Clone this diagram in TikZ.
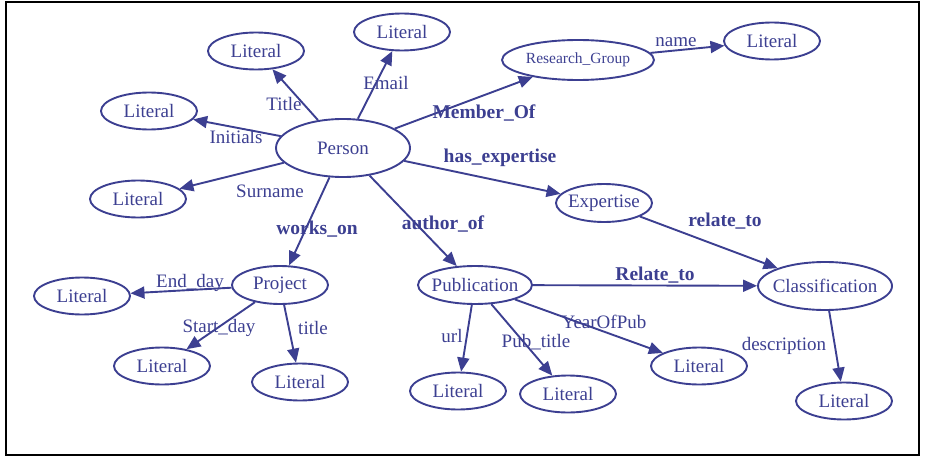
\documentclass[tikz,border=0pt]{standalone}
\usepackage{fontspec}
\setmainfont{Liberation Serif}
\usetikzlibrary{shapes.geometric,arrows.meta}
\definecolor{navy}{RGB}{60,63,145}
\newcommand{\zw}[1]{\makebox[0pt]{#1}}
\begin{document}
\begin{tikzpicture}[x=1pt,y=-1pt,
  ent/.style={ellipse,draw=navy,line width=1.9pt,text=navy,inner sep=0pt,
    font=\fontsize{19}{21}\selectfont},
  lit/.style={ent,minimum width=96pt,minimum height=37pt},
  lbl/.style={text=navy,inner sep=0pt,font=\fontsize{19}{21}\selectfont},
  blbl/.style={lbl,font=\fontsize{19.5}{21}\selectfont\bfseries},
  edge/.style={draw=navy,line width=1.9pt,-{Triangle[length=14pt,width=12pt]}}]
\useasboundingbox (0,0) rectangle (925,457);
\draw[line width=2pt] (6,2) rectangle (919,455);
% nodes
\node[ent,minimum width=134pt,minimum height=58pt] (person) at (343,148) {\zw{Person}};
\node[lit] (lTitle) at (256,51) {\zw{Literal}};
\node[lit] (lEmail) at (402,32) {\zw{Literal}};
\node[ent,minimum width=152pt,minimum height=40pt,font=\fontsize{15.5}{17}\selectfont] (rg) at (578,60) {\zw{Research\_Group}};
\node[lit] (lName) at (772,41) {\zw{Literal}};
\node[lit] (lInit) at (149,111) {\zw{Literal}};
\node[lit] (lSur) at (138,199) {\zw{Literal}};
\node[ent,minimum width=96pt,minimum height=38pt] (exp) at (604,203) {\zw{Expertise}};
\node[ent,minimum width=134pt,minimum height=48pt] (cls) at (825,286) {\zw{Classification}};
\node[ent,minimum width=114pt,minimum height=38pt] (pub) at (475,285) {\zw{Publication}};
\node[ent,minimum width=96pt,minimum height=38pt] (proj) at (280,285) {\zw{Project}};
\node[lit] (lEnd) at (82,296) {\zw{Literal}};
\node[lit] (lStart) at (162,366) {\zw{Literal}};
\node[lit] (lPtitle) at (300,382) {\zw{Literal}};
\node[lit] (lUrl) at (458,391) {\zw{Literal}};
\node[lit] (lPubt) at (568,394) {\zw{Literal}};
\node[lit] (lYear) at (699,366) {\zw{Literal}};
\node[lit] (lDesc) at (844,401) {\zw{Literal}};
% edges
\draw[edge] (person) -- (lTitle);
\draw[edge] (person) -- (lEmail);
\draw[edge] (person) -- (rg);
\draw[edge] (rg) -- (lName);
\draw[edge] (person) -- (lInit);
\draw[edge] (person) -- (lSur);
\draw[edge] (person) -- (exp);
\draw[edge] (exp) -- (cls);
\draw[edge] (person) -- (proj);
\draw[edge] (person) -- (pub);
\draw[edge] (pub) -- (cls);
\draw[edge] (cls) -- (lDesc);
\draw[edge] (proj) -- (lEnd);
\draw[edge] (proj) -- (lStart);
\draw[edge] (proj) -- (lPtitle);
\draw[edge] (pub) -- (lUrl);
\draw[edge] (pub) -- (lPubt);
\draw[edge] (pub) -- (lYear);
% labels
\node[lbl] (tTitle) at (284,104) {Title};
\node[lbl] (tEmail) at (386,83) {Email};
\node[lbl] (tInit) at (236,137) {Initials};
\node[lbl] (tSur) at (270,191) {Surname};
\node[blbl] (tMem) at (484,113) {Member\_Of};
\node[blbl] (tHas) at (500,158) {has\_expertise};
\node[blbl] (tWorks) at (317,229) {works\_on};
\node[blbl] (tAuth) at (443,224) {author\_of};
\node[blbl] (tRel) at (725,221) {relate\_to};
\node[lbl] (tName) at (676,42) {name};
\node[lbl] (tEnd) at (190,283) {End\_day};
\node[lbl] (tStart) at (219,328) {Start\_day};
\node[lbl] (tPt) at (313,328) {title};
\node[blbl] (tRel2) at (655,275) {Relate\_to};
\node[lbl] (tYear) at (604,322) {YearOfPub};
\node[lbl] (tUrl) at (452,336) {url};
\node[lbl] (tPubt) at (536,342) {Pub\_title};
\node[lbl] (tDesc) at (784,346) {description};
\end{tikzpicture}
\end{document}
